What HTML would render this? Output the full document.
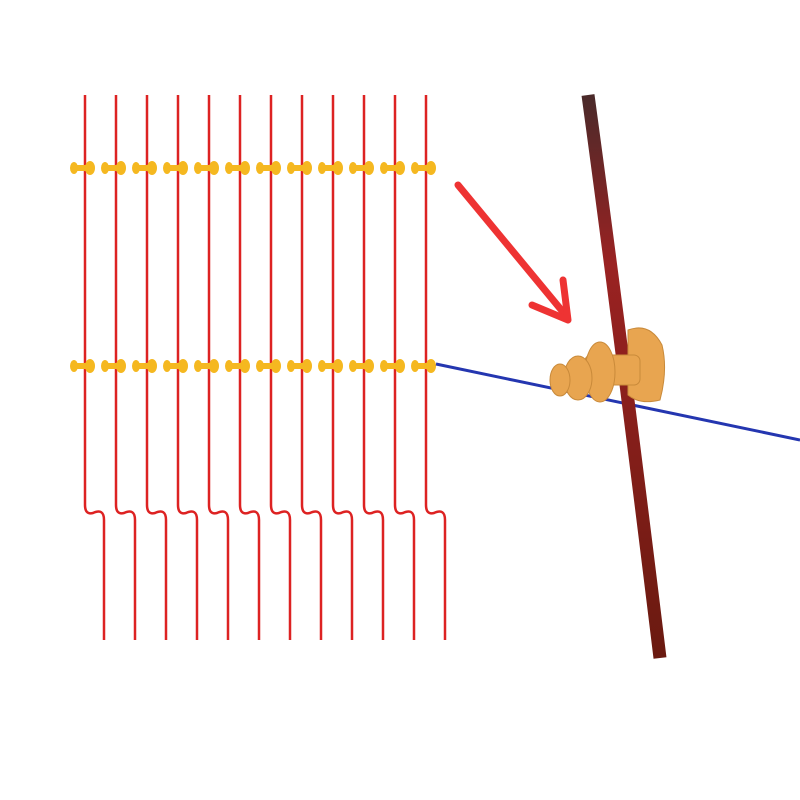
<!DOCTYPE html>
<html><head><style>html,body{margin:0;padding:0;background:#fff;width:800px;height:800px;overflow:hidden}</style></head>
<body>
<svg id="s" width="800" height="800" viewBox="0 0 800 800" xmlns="http://www.w3.org/2000/svg">
<defs>
<linearGradient id="rb" x1="0" y1="0" x2="0" y2="1">
<stop offset="0" stop-color="#4a2a2a"/><stop offset="0.3" stop-color="#9a2222"/><stop offset="1" stop-color="#6a1a10"/>
</linearGradient>
</defs>
<g id="posts"></g>
<!-- blue wire -->
<path d="M436 364 L800 440" stroke="#2436b0" stroke-width="3" fill="none"/>
<!-- rebar -->
<path d="M588 95 Q620 330 660 658" stroke="url(#rb)" stroke-width="13" fill="none"/>
<!-- insulator -->
<g fill="#e8a550" stroke="#c98a3a" stroke-width="1">
<path d="M628 330 Q650 322 662 345 Q668 370 660 400 Q640 405 628 395 Z"/>
<rect x="585" y="355" width="55" height="30" rx="6"/>
<ellipse cx="600" cy="372" rx="15" ry="30"/>
<ellipse cx="578" cy="378" rx="14" ry="22"/>
<ellipse cx="560" cy="380" rx="10" ry="16"/>
</g>
<!-- red arrow -->
<path d="M458 185 L563 312" stroke="#ee3333" stroke-width="7" stroke-linecap="round" fill="none"/>
<path d="M532 305 L568 320 L563 280" stroke="#ee3333" stroke-width="7" stroke-linecap="round" stroke-linejoin="round" fill="none"/>
</svg>
<script>
var g=document.getElementById('posts'),h='';
for(var i=0;i<12;i++){var x=85+i*31;
h+='<path d="M'+x+' 95 L'+x+' 505 Q'+x+' 515 '+(x+8)+' 513 Q'+(x+19)+' 508 '+(x+19)+' 520 L'+(x+19)+' 640" stroke="#dd2222" stroke-width="2.5" fill="none"/>';
[168,366].forEach(function(y){
h+='<g fill="#f5b820"><ellipse cx="'+(x-11)+'" cy="'+y+'" rx="4" ry="6"/><rect x="'+(x-10)+'" y="'+(y-3)+'" width="14" height="6"/><ellipse cx="'+(x+5)+'" cy="'+y+'" rx="5" ry="7"/></g>';});
}
g.innerHTML=h;
</script>
</body></html>
